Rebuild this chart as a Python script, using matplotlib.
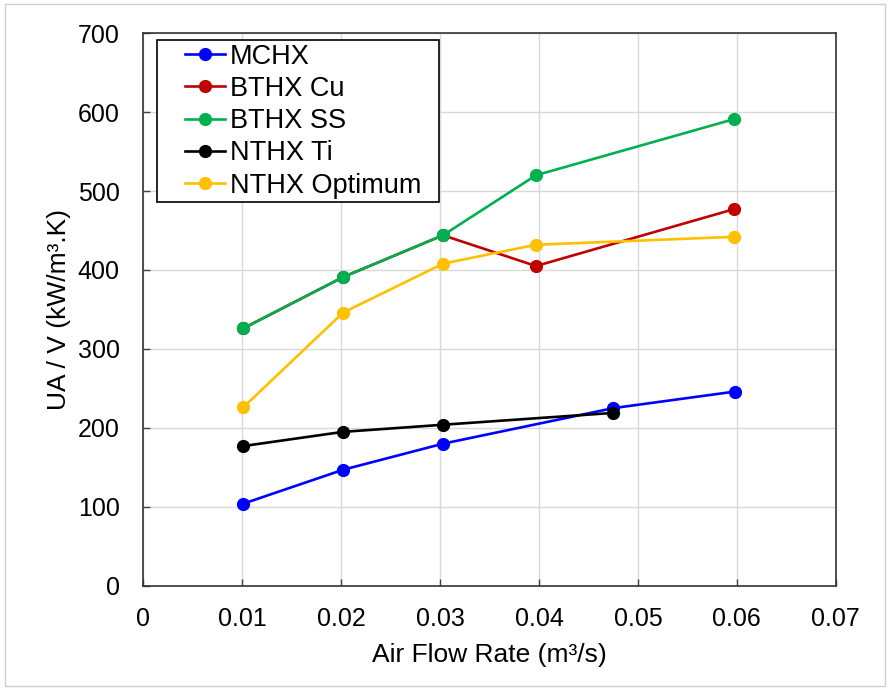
"""UA/V vs air flow rate for the heat exchanger variants."""
import matplotlib

matplotlib.use("Agg")
import matplotlib.pyplot as plt
from matplotlib.patches import Rectangle

plt.rcParams["font.family"] = ["Liberation Sans", "DejaVu Sans"]

# air flow rate (m3/s) and UA/V (kW/m3.K) per exchanger
mchx_x = [0.0101, 0.0202, 0.0303, 0.0475, 0.0598]
mchx_y = [104, 147, 180, 225, 246]

bthx_cu_x = [0.0101, 0.0202, 0.0303, 0.0397, 0.0597]
bthx_cu_y = [326, 391, 444, 405, 477]

bthx_ss_x = [0.0101, 0.0202, 0.0303, 0.0397, 0.0597]
bthx_ss_y = [326, 391, 444, 520, 591]

nthx_ti_x = [0.0101, 0.0202, 0.0303, 0.0475]
nthx_ti_y = [177, 195, 204, 219]

nthx_opt_x = [0.0101, 0.0202, 0.0303, 0.0397, 0.0597]
nthx_opt_y = [226, 346, 408, 432, 442]

series = [
    ("MCHX", mchx_x, mchx_y, "#0000FF"),
    ("BTHX Cu", bthx_cu_x, bthx_cu_y, "#C00000"),
    ("BTHX SS", bthx_ss_x, bthx_ss_y, "#00B050"),
    ("NTHX Ti", nthx_ti_x, nthx_ti_y, "#000000"),
    ("NTHX Optimum", nthx_opt_x, nthx_opt_y, "#FFC000"),
]

x_ticks = [0, 0.01, 0.02, 0.03, 0.04, 0.05, 0.06, 0.07]
x_labels = ["0", "0.01", "0.02", "0.03", "0.04", "0.05", "0.06", "0.07"]
y_ticks = [0, 100, 200, 300, 400, 500, 600, 700]

fig = plt.figure(figsize=(8.9, 6.9), dpi=100)
ax = fig.add_axes([0.161, 0.151, 0.778, 0.801])

for name, xs, ys, col in series:
    ax.plot(xs, ys, "-o", color=col, lw=1.9, markersize=8.5, label=name)

ax.set_xlim(0, 0.07)
ax.set_ylim(0, 700)
ax.set_xticks(x_ticks)
ax.set_xticklabels(x_labels)
ax.set_yticks(y_ticks)
ax.grid(True, color="#d9d9d9", lw=1.0)
ax.set_axisbelow(True)
ax.tick_params(direction="in", length=5, width=1, labelsize=18, color="#404040")
ax.tick_params(axis="x", pad=15)
ax.tick_params(axis="y", pad=17)
for s in ax.spines.values():
    s.set_linewidth(1.2)
    s.set_color("#333333")

ax.set_xlabel("Air Flow Rate (m³/s)", fontsize=19, labelpad=9)
ax.set_ylabel("UA / V (kW/m³.K)", fontsize=19, labelpad=5)

# legend without its own frame; the box is drawn below with a wider left margin
leg = ax.legend(loc="upper left", bbox_to_anchor=(0.06, 0.981), borderaxespad=0,
                fontsize=19.5, handlelength=1.5, handletextpad=0.15,
                labelspacing=0.23, borderpad=0.0, frameon=False)
leg.set_zorder(6)

fig.canvas.draw()
bb = leg.get_window_extent(fig.canvas.get_renderer())
x0, y0 = fig.transFigure.inverted().transform((bb.x0 - 28, bb.y0 - 3))
x1, y1 = fig.transFigure.inverted().transform((bb.x1 + 18, bb.y1 + 4))
box = Rectangle((x0, y0), x1 - x0, y1 - y0, transform=fig.transFigure,
                facecolor="white", edgecolor="black", lw=1.2, zorder=5, clip_on=False)
ax.add_artist(box)

# thin grey border round the whole figure
fig.patches.append(Rectangle((0.006, 0.006), 0.988, 0.988, transform=fig.transFigure,
                             fill=False, edgecolor="#d0d0d0", lw=1.0))

fig.savefig("out.png", dpi=100)
